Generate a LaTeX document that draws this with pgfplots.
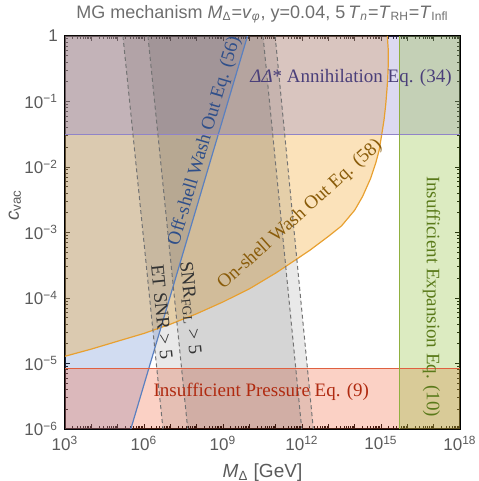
\documentclass[border=0pt]{standalone}
\usepackage{fontspec}
\setmainfont{Liberation Sans}
\newfontfamily\serif{Liberation Serif}
\usepackage{pgfplots}
\pgfplotsset{compat=1.18}
\definecolor{lavfill}{RGB}{140,128,204}
\definecolor{lavline}{RGB}{144,132,200}
\definecolor{lavtext}{RGB}{74,63,122}
\definecolor{orfill}{RGB}{242,166,40}
\definecolor{orline}{RGB}{232,160,48}
\definecolor{ortext}{RGB}{138,92,10}
\definecolor{blfill}{RGB}{90,128,204}
\definecolor{blline}{RGB}{90,128,192}
\definecolor{bltext}{RGB}{47,79,138}
\definecolor{rdfill}{RGB}{242,102,64}
\definecolor{rdline}{RGB}{224,96,64}
\definecolor{rdtext}{RGB}{176,42,16}
\definecolor{grfill}{RGB}{140,190,50}
\definecolor{grline}{RGB}{144,176,64}
\definecolor{grtext}{RGB}{90,122,26}
\definecolor{ticktext}{RGB}{90,90,90}
\definecolor{titletext}{RGB}{110,110,110}
\pgfplotstableread{
M c
1e3 1.29e-5
1e4 1.66e-5
1e5 2.19e-5
1e6 2.88e-5
1e7 3.98e-5
1e8 5.75e-5
1e9 8.71e-5
1e10 1.38e-4
1e11 2.40e-4
3.98e11 3.47e-4
2.0e12 5.37e-4
1e13 8.71e-4
3.16e13 1.26e-3
1e14 2.19e-3
2.0e14 3.55e-3
3.98e14 6.61e-3
6.31e14 1.15e-2
8.5e14 1.8e-2
1.07e15 3.16e-2
1.3e15 5.2e-2
1.51e15 8.9e-2
1.7e15 0.16
1.82e15 0.25
1.9e15 0.40
1.88e15 0.63
1.74e15 1
}\onshell
\begin{document}
\begin{tikzpicture}
\useasboundingbox (-32.5pt,-26pt) rectangle (206.5pt,214.5pt);
\begin{axis}[
  at={(0,0)}, anchor=south west,
  scale only axis, width=197.5pt, height=196.5pt,
  xmode=log, ymode=log,
  xmin=1e3, xmax=1e18, ymin=1e-6, ymax=1,
  axis line style={line width=0.8pt, black},
  tick style={black, line width=0.5pt},
  major tick length=2.6pt, minor tick length=1.3pt,
  xtick={1e3,1e4,1e5,1e6,1e7,1e8,1e9,1e10,1e11,1e12,1e13,1e14,1e15,1e16,1e17,1e18},
  xticklabels={10\textsuperscript{3},{},{},10\textsuperscript{6},{},{},10\textsuperscript{9},{},{},10\textsuperscript{12},{},{},10\textsuperscript{15},{},{},10\textsuperscript{18}},
  ytick={1e-6,1e-5,1e-4,1e-3,1e-2,1e-1,1},
  yticklabels={10\textsuperscript{−6},10\textsuperscript{−5},10\textsuperscript{−4},10\textsuperscript{−3},10\textsuperscript{−2},10\textsuperscript{−1},1},
  minor xtick={2e3,3e3,4e3,5e3,6e3,7e3,8e3,9e3,2e4,3e4,4e4,5e4,6e4,7e4,8e4,9e4,2e5,3e5,4e5,5e5,6e5,7e5,8e5,9e5,2e6,3e6,4e6,5e6,6e6,7e6,8e6,9e6,2e7,3e7,4e7,5e7,6e7,7e7,8e7,9e7,2e8,3e8,4e8,5e8,6e8,7e8,8e8,9e8,2e9,3e9,4e9,5e9,6e9,7e9,8e9,9e9,2e10,3e10,4e10,5e10,6e10,7e10,8e10,9e10,2e11,3e11,4e11,5e11,6e11,7e11,8e11,9e11,2e12,3e12,4e12,5e12,6e12,7e12,8e12,9e12,2e13,3e13,4e13,5e13,6e13,7e13,8e13,9e13,2e14,3e14,4e14,5e14,6e14,7e14,8e14,9e14,2e15,3e15,4e15,5e15,6e15,7e15,8e15,9e15,2e16,3e16,4e16,5e16,6e16,7e16,8e16,9e16,2e17,3e17,4e17,5e17,6e17,7e17,8e17,9e17},
  minor ytick={2e-6,3e-6,4e-6,5e-6,6e-6,7e-6,8e-6,9e-6,2e-5,3e-5,4e-5,5e-5,6e-5,7e-5,8e-5,9e-5,2e-4,3e-4,4e-4,5e-4,6e-4,7e-4,8e-4,9e-4,2e-3,3e-3,4e-3,5e-3,6e-3,7e-3,8e-3,9e-3,2e-2,3e-2,4e-2,5e-2,6e-2,7e-2,8e-2,9e-2,2e-1,3e-1,4e-1,5e-1,6e-1,7e-1,8e-1,9e-1},
  tick label style={font=\fontsize{8.5}{10}\selectfont, text=ticktext},
  xlabel={\textit{M}\textsubscript{Δ} [GeV]},
  ylabel={\textit{c}\textsubscript{vac}},
  label style={font=\fontsize{9.5}{11}\selectfont, text=ticktext},
  xlabel style={at={(axis description cs:0.5,-0.112)}, anchor=center},
  ylabel style={at={(axis description cs:-0.127,0.57)}, anchor=center},
  title={MG mechanism \textit{M}\textsubscript{Δ}=\textit{v}\textsubscript{\textit{φ}}, y=0.04, 5\,\textit{T}\textsubscript{\textit{n}}=\textit{T}\textsubscript{RH}=\textit{T}\textsubscript{Infl}},
  title style={at={(axis description cs:0.5,1.056)}, anchor=center, yshift=-6pt, font=\fontsize{9}{11}\selectfont, text=titletext},
]
% fills
\addplot[draw=none, fill=blfill, fill opacity=0.28] coordinates {
 (3.16e5,1e-6) (8.5e9,1) (1e3,1) (1e3,1e-6)} -- cycle;
\addplot[draw=none, fill=orfill, fill opacity=0.32] table[x=M,y=c] {\onshell} -- (axis cs:1e3,1) -- cycle;
\addplot[draw=none, fill=lavfill, fill opacity=0.3] coordinates {
 (1e3,0.0316) (1e18,0.0316) (1e18,1) (1e3,1)} -- cycle;
\addplot[draw=none, fill=rdfill, fill opacity=0.3] coordinates {
 (1e3,1e-6) (1e18,1e-6) (1e18,8.3e-6) (1e3,8.3e-6)} -- cycle;
\addplot[draw=none, fill=grfill, fill opacity=0.3] coordinates {
 (4.9e15,1e-6) (1e18,1e-6) (1e18,1) (4.9e15,1)} -- cycle;
\addplot[draw=none, fill=black, fill opacity=0.085] coordinates {
 (1.585e5,1) (5.25e6,1e-6) (9.77e11,1e-6) (3.31e10,1)} -- cycle;
\addplot[draw=none, fill=black, fill opacity=0.085] coordinates {
 (1.41e6,1) (4.57e7,1e-6) (2.69e12,1e-6) (9.55e10,1)} -- cycle;
% lines
\addplot[orline, line width=0.6pt] table[x=M,y=c] {\onshell};
\addplot[blline, line width=0.6pt] coordinates {(3.16e5,1e-6) (8.5e9,1)};
\addplot[lavline, line width=0.6pt] coordinates {(1e3,0.0316) (1e18,0.0316)};
\addplot[rdline, line width=0.6pt] coordinates {(1e3,8.3e-6) (1e18,8.3e-6)};
\addplot[grline, line width=0.6pt] coordinates {(4.9e15,1e-6) (4.9e15,1)};
\addplot[black!55, line width=0.5pt, dash pattern=on 2pt off 1.5pt] coordinates {(1.585e5,1) (5.25e6,1e-6)};
\addplot[black!55, line width=0.5pt, dash pattern=on 2pt off 1.5pt] coordinates {(1.41e6,1) (4.57e7,1e-6)};
\addplot[black!55, line width=0.5pt, dash pattern=on 2pt off 1.5pt] coordinates {(3.31e10,1) (9.77e11,1e-6)};
\addplot[black!55, line width=0.5pt, dash pattern=on 2pt off 1.5pt] coordinates {(9.55e10,1) (2.69e12,1e-6)};
% labels
\node[text=lavtext, font=\serif\fontsize{9.5}{11}\selectfont] at (rel axis cs:0.724,0.893) {\textit{ΔΔ}* Annihilation Eq. (34)};
\node[text=bltext, font=\serif\fontsize{9.5}{11}\selectfont, rotate=73.6] at (rel axis cs:0.354,0.733) {Off-shell Wash Out Eq. (56)};
\node[text=ortext, font=\serif\fontsize{9.5}{11}\selectfont, rotate=42] at (rel axis cs:0.595,0.545) {On-shell Wash Out Eq. (58)};
\node[text=black!80, font=\serif\fontsize{9.5}{11}\selectfont, rotate=-84.2] at (rel axis cs:0.2456,0.298) {ET SNR {>} 5};
\node[text=black!80, font=\serif\fontsize{9.5}{11}\selectfont, rotate=-84.2] at (rel axis cs:0.316,0.308) {SNR\textsubscript{FGL} {>} 5};
\node[text=rdtext, font=\serif\fontsize{9.5}{11}\selectfont] at (rel axis cs:0.497,0.0949) {Insufficient Pressure Eq. (9)};
\node[text=grtext, font=\serif\fontsize{9.5}{11}\selectfont, rotate=-90] at (rel axis cs:0.928,0.337) {Insufficient Expansion Eq. (10)};
\end{axis}
\end{tikzpicture}
\end{document}
